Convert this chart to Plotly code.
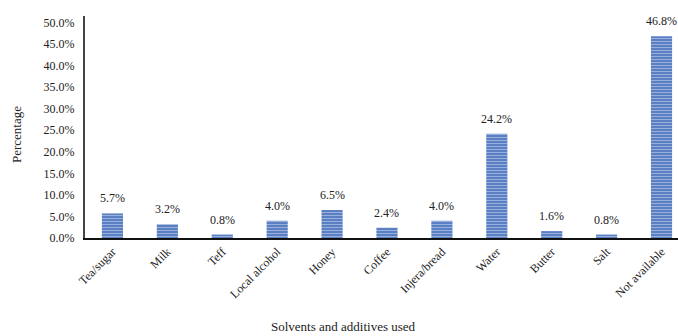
import plotly.graph_objects as go

# Solvents / additives and share of respondents using each (%)
categories = ["Tea/sugar", "Milk", "Teff", "Local alcohol", "Honey", "Coffee",
              "Injera/bread", "Water", "Butter", "Salt", "Not available"]
percentages = [5.7, 3.2, 0.8, 4.0, 6.5, 2.4, 4.0, 24.2, 1.6, 0.8, 46.8]
y_ticks = [0, 5, 10, 15, 20, 25, 30, 35, 40, 45, 50]
y_tick_labels = [f"{v:.1f}%" for v in y_ticks]

FONT = "Liberation Serif"
TEXT = "#222222"
W, H = 678, 336
left, top, bottom = 85, 16, 98
plot_h = H - top - bottom

fig = go.Figure(
    go.Bar(
        x=list(range(len(categories))),
        y=percentages,
        width=0.385,
        marker=dict(
            color="#5a7fc3",
            line=dict(width=0),
            pattern=dict(shape="-", fgcolor="#d6e1f4", size=3, solidity=0.35),
        ),
        hoverinfo="x+y",
    )
)

# value labels above each bar
for i, v in enumerate(percentages):
    fig.add_annotation(
        x=i, y=v, xref="x", yref="y",
        text=f"{v:.1f}%", showarrow=False,
        xanchor="center", yanchor="bottom", yshift=6,
        font=dict(family=FONT, size=12, color=TEXT),
    )

fig.update_layout(
    width=W, height=H,
    margin=dict(l=left, r=0, t=top, b=bottom),
    paper_bgcolor="white", plot_bgcolor="white",
    showlegend=False,
    font=dict(family=FONT, size=12, color=TEXT),
)

fig.update_xaxes(
    range=[-0.5, 10.3],
    tickmode="array",
    tickvals=list(range(len(categories))),
    ticktext=categories,
    tickangle=-45,
    showline=True, linecolor="#111111", linewidth=2,
    showgrid=False, zeroline=False, ticks="",
    tickfont=dict(family=FONT, size=12, color=TEXT),
)

fig.update_yaxes(
    range=[0, 51.5],
    tickmode="array",
    tickvals=y_ticks,
    ticktext=y_tick_labels,
    showline=True, linecolor="#444444", linewidth=2,
    showgrid=False, zeroline=False, ticks="",
    ticklabelstandoff=6,
    tickfont=dict(family=FONT, size=12, color=TEXT),
)

fig.add_annotation(
    text="Percentage", xref="paper", yref="paper",
    x=-(left - 16) / (W - left), y=1 - (135 - top) / plot_h, textangle=-90,
    xanchor="center", yanchor="middle",
    showarrow=False, font=dict(family=FONT, size=13, color=TEXT),
)
fig.add_annotation(
    text="Solvents and additives used", xref="paper", yref="paper",
    x=(343 - left) / (W - left), y=-(326 - (H - bottom)) / plot_h,
    xanchor="center", yanchor="middle",
    showarrow=False, font=dict(family=FONT, size=13, color=TEXT),
)

fig.write_html("out.html")
